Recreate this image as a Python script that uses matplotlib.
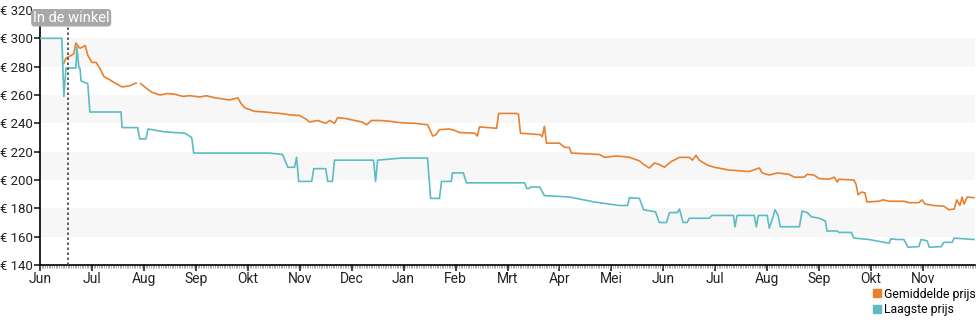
import numpy as np
import matplotlib.pyplot as plt
from matplotlib.lines import Line2D
from matplotlib.ticker import MultipleLocator

plt.rcParams['font.family'] = ['Roboto', 'DejaVu Sans']

maanden = ['Jun', 'Jul', 'Aug', 'Sep', 'Okt', 'Nov', 'Dec', 'Jan', 'Feb',
           'Mrt', 'Apr', 'Mei', 'Jun', 'Jul', 'Aug', 'Sep', 'Okt', 'Nov']

# tijd in maanden vanaf begin juni, prijs in euro
laagste_t = [0.00, 0.42, 0.46, 0.50, 0.69, 0.71, 0.75, 0.77, 0.79, 0.92, 0.96,
             1.56, 1.58, 1.88, 1.92, 2.04, 2.08, 2.40, 2.79, 2.92, 2.96,
             4.42, 4.67, 4.77, 4.90, 4.94, 4.98, 5.23, 5.27, 5.50, 5.54, 5.63,
             5.67, 6.42, 6.46, 6.50, 6.96, 7.46, 7.52, 7.69, 7.73, 7.92, 7.94,
             8.15, 8.21, 9.33, 9.37, 9.42, 9.44, 9.62, 9.71, 10.19, 10.67,
             11.15, 11.31, 11.35, 11.54, 11.62, 11.85, 11.92, 12.06, 12.12,
             12.27, 12.31, 12.38, 12.46, 12.50, 12.88, 12.94, 13.35, 13.38,
             13.42, 13.75, 13.79, 13.83, 14.00, 14.04, 14.12, 14.15, 14.21,
             14.25, 14.62, 14.67, 14.77, 14.85, 15.00, 15.12, 15.15, 15.35,
             15.38, 15.62, 15.67, 15.96, 16.25, 16.35, 16.38, 16.50, 16.63,
             16.71, 16.92, 16.96, 17.08, 17.12, 17.35, 17.40, 17.56, 17.60,
             17.98]
laagste = [300, 300, 259, 279, 279, 294, 279, 279, 270, 268, 248,
           248, 237, 237, 229, 229, 236, 234, 233, 230, 219,
           219, 218, 209, 209, 216, 199, 199, 208, 208, 199, 199,
           214, 214, 199, 214, 215.5, 215.5, 187, 187, 199, 199, 205,
           205, 198, 198, 194, 194, 195, 195, 189, 188, 184.5,
           182, 182, 187.5, 187, 179, 177.5, 170, 170, 177,
           177, 179.5, 170, 170, 173, 173, 175, 175, 167,
           175, 175, 167, 175, 175, 166, 175, 179, 175,
           167, 167, 178, 177, 174, 173, 171, 164, 164,
           163, 163, 159, 158, 156, 155.5, 158.5, 158, 158,
           152.5, 153, 158, 157, 152.5, 153, 156, 156, 159,
           158]

gem_t = [0.46, 0.50, 0.58, 0.65, 0.69, 0.77, 0.83, 0.87, 0.92, 1.00, 1.08,
         1.15, 1.23, 1.35, 1.44, 1.58, 1.73, 1.85, 1.89, 1.94, 2.04, 2.15,
         2.31, 2.45, 2.60, 2.75, 2.88, 3.08, 3.20, 3.37, 3.56, 3.65, 3.81,
         3.87, 3.94, 4.13, 4.33, 4.62, 4.81, 5.00, 5.12, 5.19, 5.35, 5.50,
         5.58, 5.67, 5.73, 5.87, 6.06, 6.19, 6.29, 6.38, 6.54, 6.73, 6.92,
         7.21, 7.46, 7.50, 7.56, 7.62, 7.69, 7.88, 7.98, 8.08, 8.37, 8.42,
         8.46, 8.79, 8.83, 9.17, 9.21, 9.25, 9.63, 9.67, 9.71, 9.75, 10.00,
         10.10, 10.19, 10.23, 10.50, 10.77, 10.87, 11.10, 11.35, 11.54,
         11.62, 11.73, 11.83, 11.92, 12.02, 12.15, 12.31, 12.50, 12.56,
         12.63, 12.69, 12.85, 12.98, 13.27, 13.46, 13.65, 13.85, 13.90,
         14.04, 14.20, 14.42, 14.52, 14.71, 14.77, 14.90, 15.00, 15.19,
         15.29, 15.35, 15.38, 15.67, 15.71, 15.75, 15.81, 15.88, 15.92,
         16.15, 16.23, 16.35, 16.63, 16.73, 16.92, 16.98, 17.04, 17.21,
         17.40, 17.50, 17.60, 17.65, 17.71, 17.75, 17.79, 17.85, 17.98]
gemiddeld = [282.6, 286, 287.5, 289, 296.7, 293, 294, 295, 288, 283, 283,
             279, 273, 270.6, 268.5, 265.7, 266.5, 268.5, np.nan, 268, 265, 262,
             260, 261, 260.5, 259, 259.5, 258.6, 259.5, 258, 257, 256.5, 258,
             254, 251, 248.5, 248, 247, 246, 245.5, 243, 241, 242, 240,
             242, 240, 244, 243.5, 242, 241, 239, 242, 242, 241.5, 240.5,
             240, 239, 236, 231, 232, 235.5, 236, 235, 233.5, 233, 231,
             237.5, 236.5, 247, 247, 246.5, 233, 232, 230.5, 238, 226, 226,
             223, 223, 219, 218.5, 218, 216, 217, 216, 213.5,
             211, 208.5, 212, 211, 209, 213, 216, 216, 214,
             217.5, 214, 210.5, 209, 207, 206.5, 206, 208.5, 205,
             203.5, 205, 204, 202, 202, 204, 203.5, 201, 200.5,
             202, 198.6, 200.5, 200, 197, 189.5, 191.5, 191, 184.5,
             185, 186, 185, 185, 184, 184, 186, 183, 182,
             181.5, 179, 179.5, 186, 182, 188, 183, 188, 187.5]

oranje = '#e8812f'
blauw = '#5bbcc4'

fig = plt.figure(figsize=(9.8, 3.25), dpi=100)
ax = fig.add_axes([40 / 980, 60 / 325, 935 / 980, 255 / 325])

for lo in [160, 200, 240, 280]:
    ax.axhspan(lo, lo + 20, color='#f7f7f7', lw=0, zorder=0)

ax.plot(gem_t, gemiddeld, color=oranje, lw=1.2, zorder=3)
ax.plot(laagste_t, laagste, color=blauw, lw=1.2, zorder=3)

# moment waarop het product in de winkel kwam
ax.axvline(0.54, ymax=0.985, color='#444444', lw=1.2, ls=(0, (1.5, 1.5)), zorder=4)
ax.text(0.6, 314.5, 'In de winkel', ha='center', va='center', fontsize=10.5,
        color='white', zorder=5,
        bbox=dict(boxstyle='round,pad=0.12,rounding_size=0.25', fc='#a8a8a8', ec='none'))

ax.set_xlim(0, 18)
ax.set_ylim(140, 320)
ax.set_xticks(range(len(maanden)))
ax.set_xticklabels(maanden)
ax.xaxis.set_minor_locator(MultipleLocator(1 / 30))
ax.set_yticks(range(140, 321, 20))
ax.set_yticklabels(['€ %d' % v for v in range(140, 321, 20)])

for s in ['top', 'right']:
    ax.spines[s].set_visible(False)
ax.spines['left'].set_linewidth(1.2)
ax.spines['bottom'].set_linewidth(1.2)
ax.tick_params(axis='both', which='major', length=4, width=1.2, labelsize=9.5,
               colors='#222222', pad=1)
ax.tick_params(axis='x', labelsize=10)
ax.tick_params(axis='x', which='minor', length=2, width=0.6, color='#999999')
ax.tick_params(axis='y', pad=1)

handles = [Line2D([], [], marker='s', ls='none', color=oranje, markersize=5.5),
           Line2D([], [], marker='s', ls='none', color=blauw, markersize=5.5)]
fig.legend(handles, ['Gemiddelde prijs', 'Laagste prijs'], loc='upper left',
           bbox_to_anchor=(0.889, 0.115), frameon=False, fontsize=8.8,
           handletextpad=0.05, labelspacing=0.2, handlelength=1,
           borderaxespad=0, borderpad=0)

fig.savefig('out.png', dpi=100)
